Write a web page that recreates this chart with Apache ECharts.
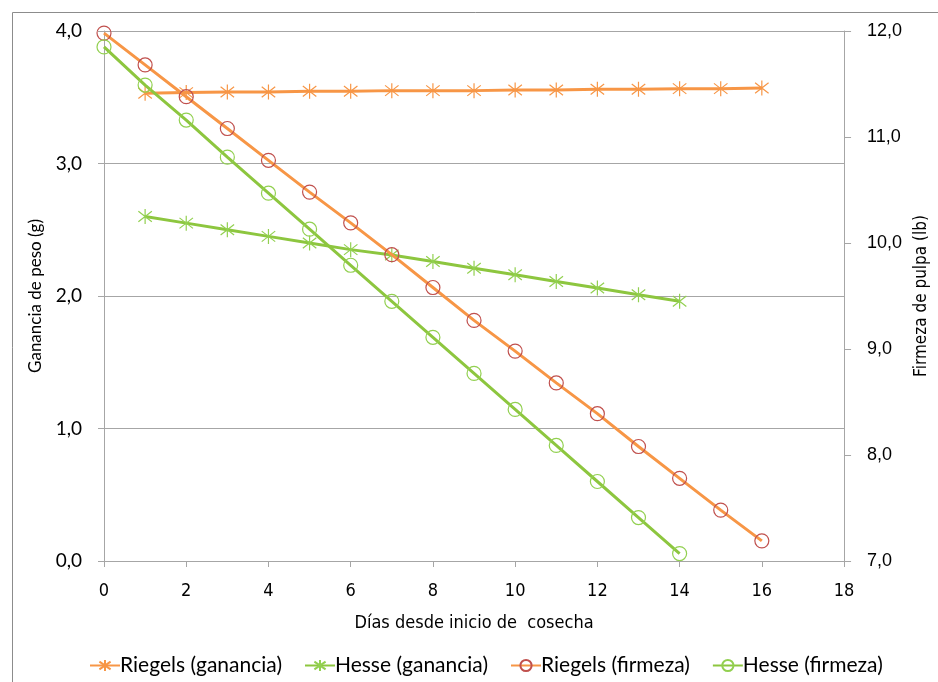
<!DOCTYPE html>
<html>
<head>
<meta charset="utf-8">
<script src="https://cdn.jsdelivr.net/npm/echarts@6/dist/echarts.min.js"></script>
<style>html,body{margin:0;padding:0;background:#fff;}#c{width:938px;height:682px;}</style>
</head>
<body>
<div id="c"></div>
<script>
const daysGain = [1,2,3,4,5,6,7,8,9,10,11,12,13,14,15,16];
const riegelsGain = [3.53,3.535,3.54,3.54,3.545,3.545,3.55,3.55,3.55,3.555,3.555,3.56,3.56,3.565,3.565,3.57];
const daysHesseGain = [1,2,3,4,5,6,7,8,9,10,11,12,13,14];
const hesseGain = [2.60,2.55,2.50,2.45,2.40,2.35,2.31,2.26,2.21,2.16,2.11,2.06,2.01,1.96];
const daysRiegelsFirm = [0,1,2,3,4,5,6,7,8,9,10,11,12,13,14,15,16];
const riegelsFirm = [11.98,11.68,11.38,11.08,10.78,10.48,10.19,9.89,9.58,9.27,8.98,8.68,8.39,8.08,7.78,7.48,7.19];
const daysHesseFirm = [0,1,2,3,4,5,6,7,8,9,10,11,12,13,14];
const hesseFirm = [11.85,11.49,11.16,10.81,10.47,10.13,9.79,9.45,9.11,8.77,8.43,8.09,7.75,7.41,7.07];
const seriesNames = ['Riegels (ganancia)','Hesse (ganancia)','Riegels (firmeza)','Hesse (firmeza)'];
const xAxisTitle = 'Días desde inicio de  cosecha';
const leftTitle = 'Ganancia de peso (g)';
const rightTitle = 'Firmeza de pulpa (lb)';

const zip = (xs, ys) => xs.map((x, i) => [x, ys[i]]);
const ORANGE = '#F79646', GREEN = '#8DC63F', RED = '#C0504D', LGREEN = '#92D050';
const star = 'path://M0,-10L0,10M-9,-7L9,7M-9,7L9,-7';
const NARROW = "'DejaVu Sans Condensed', 'Liberation Sans', sans-serif";
const fmt = v => v.toFixed(1).replace('.', ',');

const chart = echarts.init(document.getElementById('c'), null, {renderer: 'canvas'});
chart.setOption({
  animation: false,
  backgroundColor: '#fff',
  graphic: [{
    type: 'rect', left: 10, top: 10, shape: {width: 960, height: 700},
    style: {fill: 'none', stroke: '#8c8c8c', lineWidth: 1}, z: -1
  }],
  grid: {left: 104, right: 93, top: 31, bottom: 121},
  legend: {
    top: 650, left: 84, itemWidth: 30, itemHeight: 14, itemGap: 22,
    textStyle: {fontFamily: 'Lato', fontSize: 21, color: '#000', padding: [0, 0, 0, -5]},
    data: seriesNames
  },
  xAxis: {
    type: 'value', min: 0, max: 18, interval: 2,
    name: xAxisTitle, nameLocation: 'middle', nameGap: 53,
    nameTextStyle: {fontFamily: NARROW, fontSize: 18, color: '#000'},
    axisLine: {show: true, lineStyle: {color: '#a6a6a6', width: 1}},
    axisTick: {show: true, length: 6, lineStyle: {color: '#a6a6a6'}},
    axisLabel: {fontFamily: NARROW, fontSize: 18, color: '#000', margin: 21},
    splitLine: {show: false}
  },
  yAxis: [{
    type: 'value', min: 0, max: 4, interval: 1, position: 'left',
    name: leftTitle, nameLocation: 'middle', nameGap: 60, nameRotate: 90,
    nameTextStyle: {fontFamily: 'Lato', fontSize: 17, color: '#000'},
    axisLine: {show: true, lineStyle: {color: '#a6a6a6', width: 1}},
    axisTick: {show: true, length: 6, lineStyle: {color: '#a6a6a6'}},
    axisLabel: {fontFamily: 'Lato', fontSize: 19, color: '#000', margin: 22, formatter: fmt},
    splitLine: {show: true, lineStyle: {color: '#a6a6a6', width: 1}}
  }, {
    type: 'value', min: 7, max: 12, interval: 1, position: 'right',
    name: rightTitle, nameLocation: 'middle', nameGap: 68, nameRotate: 90,
    nameTextStyle: {fontFamily: NARROW, fontSize: 17, color: '#000'},
    axisLine: {show: true, lineStyle: {color: '#a6a6a6', width: 1}},
    axisTick: {show: true, length: 7, lineStyle: {color: '#a6a6a6'}},
    axisLabel: {fontFamily: 'Liberation Sans', fontSize: 18, color: '#000', margin: 23, formatter: fmt},
    splitLine: {show: false}
  }],
  series: [{
    name: seriesNames[0], type: 'line', yAxisIndex: 0,
    data: zip(daysGain, riegelsGain),
    symbol: star, symbolSize: 15, symbolKeepAspect: true, showAllSymbol: true,
    lineStyle: {color: ORANGE, width: 3},
    itemStyle: {color: ORANGE, borderColor: ORANGE, borderWidth: 1.2}, z: 2
  }, {
    name: seriesNames[1], type: 'line', yAxisIndex: 0,
    data: zip(daysHesseGain, hesseGain),
    symbol: star, symbolSize: 15, symbolKeepAspect: true, showAllSymbol: true,
    lineStyle: {color: GREEN, width: 3},
    itemStyle: {color: LGREEN, borderColor: LGREEN, borderWidth: 1.2}, z: 2
  }, {
    name: seriesNames[2], type: 'line', yAxisIndex: 1,
    data: zip(daysRiegelsFirm, riegelsFirm),
    symbol: 'circle', symbolSize: 14, showAllSymbol: true,
    lineStyle: {color: ORANGE, width: 3},
    itemStyle: {color: 'rgba(0,0,0,0)', borderColor: RED, borderWidth: 1.2}, z: 3
  }, {
    name: seriesNames[3], type: 'line', yAxisIndex: 1,
    data: zip(daysHesseFirm, hesseFirm),
    symbol: 'circle', symbolSize: 14, showAllSymbol: true,
    lineStyle: {color: GREEN, width: 3},
    itemStyle: {color: 'rgba(0,0,0,0)', borderColor: LGREEN, borderWidth: 1.2}, z: 3
  }]
});
</script>
</body>
</html>
